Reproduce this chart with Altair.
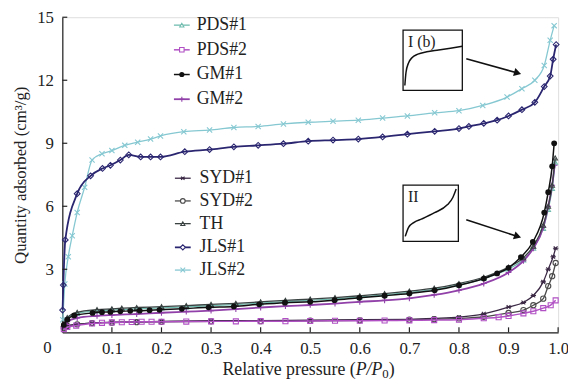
import altair as alt
import pandas as pd

# ---------------- data ----------------
JLS1_P = [0.0005, 0.002, 0.006, 0.03, 0.057, 0.081, 0.097, 0.117, 0.134, 0.158, 0.178, 0.198, 0.247, 0.297, 0.346, 0.395, 0.446, 0.496, 0.546, 0.597, 0.646, 0.696, 0.751, 0.80, 0.82, 0.85, 0.877, 0.90, 0.927, 0.953, 0.972, 0.984, 0.99, 0.996]
JLS1_Q = [1.06, 2.25, 4.4, 6.6, 7.45, 7.8, 7.95, 8.2, 8.45, 8.35, 8.35, 8.35, 8.6, 8.7, 8.83, 8.9, 8.98, 9.1, 9.15, 9.2, 9.3, 9.43, 9.57, 9.7, 9.8, 9.95, 10.1, 10.3, 10.6, 10.95, 11.7, 12.2, 13.0, 13.7]

JLS2_P = [0.001, 0.005, 0.012, 0.02, 0.03, 0.045, 0.06, 0.08, 0.1, 0.126, 0.152, 0.178, 0.198, 0.245, 0.297, 0.346, 0.395, 0.446, 0.496, 0.546, 0.597, 0.646, 0.696, 0.751, 0.80, 0.848, 0.897, 0.927, 0.953, 0.972, 0.984, 0.992]
JLS2_Q = [0.6, 2.3, 3.6, 4.6, 5.7, 6.9, 8.2, 8.5, 8.65, 8.9, 9.05, 9.2, 9.35, 9.55, 9.63, 9.75, 9.8, 9.92, 10.0, 10.05, 10.1, 10.2, 10.3, 10.45, 10.55, 10.8, 11.2, 11.6, 12.0, 12.7, 13.9, 14.6]

GM1_P = [0.003, 0.01, 0.024, 0.061, 0.08, 0.097, 0.117, 0.137, 0.156, 0.176, 0.196, 0.241, 0.295, 0.346, 0.397, 0.449, 0.5, 0.549, 0.599, 0.65, 0.7, 0.751, 0.8, 0.85, 0.877, 0.9, 0.925, 0.949, 0.972, 0.98, 0.988, 0.992]
GM1_Q = [0.35, 0.6, 0.8, 0.92, 0.96, 0.97, 1.0, 1.02, 1.03, 1.05, 1.07, 1.12, 1.19, 1.23, 1.33, 1.41, 1.45, 1.53, 1.64, 1.74, 1.85, 2.0, 2.24, 2.56, 2.8, 3.07, 3.58, 4.3, 5.7, 6.67, 7.9, 9.0]

TH_P = [0.003, 0.01, 0.03, 0.07, 0.1, 0.12, 0.15, 0.2, 0.25, 0.3, 0.35, 0.4, 0.45, 0.5, 0.55, 0.6, 0.65, 0.7, 0.75, 0.8, 0.85, 0.9, 0.93, 0.95, 0.97, 0.98, 0.988, 0.994]
TH_Q = [0.4, 0.7, 0.95, 1.08, 1.12, 1.15, 1.18, 1.22, 1.27, 1.33, 1.38, 1.45, 1.52, 1.58, 1.65, 1.74, 1.84, 1.96, 2.1, 2.32, 2.62, 3.1, 3.55, 4.1, 5.1, 6.0, 7.0, 8.3]

PDS1_P = [0.003, 0.01, 0.03, 0.07, 0.1, 0.15, 0.2, 0.25, 0.3, 0.35, 0.4, 0.45, 0.5, 0.55, 0.6, 0.65, 0.7, 0.75, 0.8, 0.85, 0.9, 0.93, 0.95, 0.97, 0.98, 0.988, 0.994]
PDS1_Q = [0.38, 0.66, 0.9, 1.02, 1.06, 1.12, 1.16, 1.21, 1.27, 1.32, 1.39, 1.46, 1.52, 1.59, 1.68, 1.78, 1.9, 2.04, 2.26, 2.56, 3.02, 3.45, 4.0, 4.95, 5.85, 6.85, 8.1]

GM2_P = [0.003, 0.01, 0.03, 0.07, 0.1, 0.15, 0.2, 0.25, 0.3, 0.35, 0.4, 0.45, 0.5, 0.55, 0.6, 0.65, 0.7, 0.75, 0.8, 0.85, 0.9, 0.93, 0.95, 0.97, 0.98, 0.988, 0.993]
GM2_Q = [0.3, 0.5, 0.68, 0.78, 0.82, 0.87, 0.93, 0.98, 1.03, 1.1, 1.18, 1.25, 1.3, 1.37, 1.45, 1.52, 1.62, 1.78, 2.0, 2.32, 2.85, 3.4, 4.0, 5.0, 6.0, 7.0, 7.95]

PDS2_P = [0.003, 0.01, 0.028, 0.06, 0.08, 0.1, 0.12, 0.14, 0.16, 0.18, 0.2, 0.25, 0.3, 0.35, 0.4, 0.45, 0.5, 0.55, 0.6, 0.65, 0.7, 0.75, 0.8, 0.85, 0.88, 0.9, 0.93, 0.95, 0.97, 0.985, 0.995]
PDS2_Q = [0.15, 0.25, 0.32, 0.42, 0.45, 0.47, 0.48, 0.49, 0.5, 0.5, 0.5, 0.51, 0.52, 0.52, 0.53, 0.53, 0.54, 0.55, 0.55, 0.56, 0.57, 0.58, 0.6, 0.67, 0.72, 0.78, 0.9, 1.0, 1.15, 1.29, 1.52]

SYD1_P = [0.003, 0.01, 0.03, 0.06, 0.1, 0.15, 0.2, 0.3, 0.4, 0.5, 0.6, 0.7, 0.75, 0.8, 0.85, 0.9, 0.93, 0.95, 0.97, 0.98, 0.99, 0.995]
SYD1_Q = [0.2, 0.3, 0.38, 0.45, 0.48, 0.5, 0.52, 0.55, 0.56, 0.58, 0.6, 0.62, 0.66, 0.72, 0.88, 1.2, 1.42, 1.75, 2.4, 3.0, 3.6, 4.0]

SYD2_P = [0.003, 0.01, 0.03, 0.06, 0.1, 0.15, 0.2, 0.3, 0.4, 0.5, 0.6, 0.7, 0.75, 0.8, 0.85, 0.9, 0.93, 0.95, 0.97, 0.98, 0.988, 0.995]
SYD2_Q = [0.2, 0.3, 0.38, 0.44, 0.46, 0.48, 0.5, 0.52, 0.53, 0.55, 0.57, 0.6, 0.62, 0.66, 0.74, 0.92, 1.06, 1.29, 1.6, 2.2, 2.67, 3.3]

LEGEND_1 = ["PDS#1", "PDS#2", "GM#1", "GM#2"]
LEGEND_2 = ["SYD#1", "SYD#2", "TH", "JLS#1", "JLS#2"]

X_TICKS = [0.1, 0.2, 0.3, 0.4, 0.5, 0.6, 0.7, 0.8, 0.9, 1.0]
Y_TICKS = [3, 6, 9, 12, 15]

# inset schematic curves (local 0..1 coordinates inside each box)
INSET1_U = [0.03, 0.05, 0.09, 0.15, 0.25, 0.4, 0.6, 0.8, 1.0]
INSET1_V = [0.08, 0.3, 0.45, 0.54, 0.6, 0.64, 0.67, 0.7, 0.73]
INSET2_U = [0.04, 0.1, 0.2, 0.34, 0.57, 0.8, 0.9, 0.96]
INSET2_V = [0.09, 0.25, 0.34, 0.4, 0.51, 0.65, 0.78, 0.93]

# ---------------- layout / style ----------------
FONT = "Liberation Serif"
TXT = "#222222"
X0, PW = 63, 502          # page pixel of x=0, plot width
TOP, BOT = 15, 334        # page pixel of y=15 and y=0
PH = BOT - TOP


def px2x(px):
    return (px - X0) / PW


def py2y(py):
    return (BOT - py) / PH * 15


XPATH = "M-1,-1L1,1M-1,1L1,-1"
PLUS = "M-1,0L1,0M0,-1L0,1"
STAR = "M-1,0L1,0M-0.7,-0.7L0.7,0.7M-0.7,0.7L0.7,-0.7"

STYLE = {
    "JLS#2": dict(color="#86c8d2", shape=XPATH, filled=False, size=28, sw=1.3),
    "PDS#1": dict(color="#6fbcae", shape="triangle-up", filled=False, size=22, sw=1.3),
    "JLS#1": dict(color="#2b2670", shape="diamond", filled=False, size=34, sw=1.8),
    "SYD#2": dict(color="#4a4a4a", shape="circle", filled=False, size=28, sw=1.3),
    "SYD#1": dict(color="#3a2845", shape=STAR, filled=False, size=30, sw=1.3),
    "PDS#2": dict(color="#b050c4", shape="square", filled=False, size=26, sw=1.5),
    "GM#2": dict(color="#9040a8", shape=PLUS, filled=False, size=34, sw=1.8),
    "TH": dict(color="#3a4242", shape="triangle-up", filled=False, size=22, sw=1.3),
    "GM#1": dict(color="#111111", shape="circle", filled=True, size=34, sw=1.5),
}
DATA = {
    "JLS#2": (JLS2_P, JLS2_Q), "PDS#1": (PDS1_P, PDS1_Q), "JLS#1": (JLS1_P, JLS1_Q),
    "SYD#2": (SYD2_P, SYD2_Q), "SYD#1": (SYD1_P, SYD1_Q), "PDS#2": (PDS2_P, PDS2_Q),
    "GM#2": (GM2_P, GM2_Q), "TH": (TH_P, TH_Q), "GM#1": (GM1_P, GM1_Q),
}

xs = alt.Scale(domain=[0, 1], nice=False, zero=False)
ys = alt.Scale(domain=[0, 15], nice=False)
x_axis = alt.Axis(values=[0] + X_TICKS, format=".1f", ticks=False, grid=False,
                  labelExpr="datum.value == 0 ? '' : datum.label",
                  labelFont=FONT, labelFontSize=17, labelColor=TXT, labelPadding=8,
                  domainColor="#222", domainWidth=1.2, labelFlush=False)
y_axis = alt.Axis(values=[0] + Y_TICKS, ticks=False, grid=False,
                  labelExpr="datum.value == 0 ? '' : datum.label",
                  labelFont=FONT, labelFontSize=17, labelColor=TXT, labelPadding=9,
                  domainColor="#222", domainWidth=1.2,
                  title="Quantity adsorbed (cm³/g)", titleFont=FONT, titleFontSize=17,
                  titleFontWeight="normal", titleColor=TXT, titlePadding=7, labelFlush=False)
X = alt.X("p:Q", scale=xs, axis=x_axis, title=None)
Y = alt.Y("q:Q", scale=ys, axis=y_axis)

layers = []
for name, (P, Q) in DATA.items():
    st = STYLE[name]
    df = pd.DataFrame({"p": P, "q": Q})
    base = alt.Chart(df).encode(x=X, y=Y)
    layers.append(base.mark_line(color=st["color"], strokeWidth=st["sw"], interpolate="monotone"))
    layers.append(base.mark_point(shape=st["shape"], filled=st["filled"], size=st["size"],
                                  color=st["color"], strokeWidth=1.1, opacity=1,
                                  fill=st["color"] if st["filled"] else "transparent"))

# inward ticks
tx = pd.DataFrame({"p": X_TICKS})
layers.append(alt.Chart(tx).mark_rule(color="#222", strokeWidth=1.2).encode(
    x=X, y=alt.value(PH), y2=alt.value(PH - 5)))
ty = pd.DataFrame({"q": Y_TICKS})
layers.append(alt.Chart(ty).mark_rule(color="#222", strokeWidth=1.2).encode(
    y=Y, x=alt.value(0), x2=alt.value(5)))

# corner 0 label
layers.append(alt.Chart(pd.DataFrame({"t": ["0"]})).mark_text(
    font=FONT, fontSize=17, color=TXT, align="center", baseline="middle").encode(
    text="t:N", x=alt.value(48 - X0), y=alt.value(350 - TOP)))

# x title pieces
ty0 = 372 - TOP
cx = 312 - X0
start = cx - 87
pieces = [
    ("Relative pressure (", start + 135, "right", "normal", 18, 0),
    ("P/P", start + 135, "left", "italic", 18, 0),
    ("0", start + 162, "left", "normal", 13, 4),
    (")", start + 168.5, "left", "normal", 18, 0),
]
for t, x, al, fs, size, dy in pieces:
    layers.append(alt.Chart(pd.DataFrame({"t": [t]})).mark_text(
        font=FONT, fontSize=size, fontStyle=fs, color=TXT, align=al, baseline="middle", dy=dy).encode(
        text="t:N", x=alt.value(x), y=alt.value(ty0)))

# legends
def legend(names, rows, lx1, lx2, mx, tx_):
    for name, ry in zip(names, rows):
        st = STYLE[name]
        yv = py2y(ry)
        d = pd.DataFrame({"p": [px2x(lx1)], "p2": [px2x(lx2)], "q": [yv], "pm": [px2x(mx)],
                          "pt": [px2x(tx_)], "t": [name]})
        b = alt.Chart(d)
        layers.append(b.mark_rule(color=st["color"], strokeWidth=st["sw"]).encode(
            x=X, x2="p2:Q", y=Y))
        layers.append(b.mark_point(shape=st["shape"], filled=st["filled"], size=st["size"] * 0.8,
                                   color=st["color"], strokeWidth=1.1, opacity=1,
                                   fill=st["color"] if st["filled"] else "white").encode(
            x=alt.X("pm:Q", scale=xs, axis=x_axis, title=None), y=Y))
        layers.append(b.mark_text(font=FONT, fontSize=18, color=TXT, align="left",
                                  baseline="middle").encode(
            x=alt.X("pt:Q", scale=xs, axis=x_axis, title=None), y=Y, text="t:N"))

legend(LEGEND_1, [23, 48, 73, 98], 176, 192, 184, 199)
legend(LEGEND_2, [178, 201, 224, 248, 271], 177, 193, 185, 202)

# insets
def inset(bx1, by1, bx2, by2, U, V, label, arrow):
    box = pd.DataFrame({"p": [px2x(bx1)], "p2": [px2x(bx2)], "q": [py2y(by2)], "q2": [py2y(by1)]})
    layers.append(alt.Chart(box).mark_rect(fill="white", stroke="#111", strokeWidth=1.3).encode(
        x=X, x2="p2:Q", y=Y, y2="q2:Q"))
    cur = pd.DataFrame({"p": [px2x(bx1 + u * (bx2 - bx1)) for u in U],
                        "q": [py2y(by2 - v * (by2 - by1)) for v in V]})
    layers.append(alt.Chart(cur).mark_line(color="#111", strokeWidth=1.5, interpolate="monotone").encode(
        x=X, y=Y))
    lab = pd.DataFrame({"p": [px2x(bx1 + 5)], "q": [py2y(by1 + 12)], "t": [label]})
    layers.append(alt.Chart(lab).mark_text(font=FONT, fontSize=16, color=TXT, align="left",
                                           baseline="middle").encode(x=X, y=Y, text="t:N"))
    (ax1, ay1, ax2, ay2, ang) = arrow
    ar = pd.DataFrame({"p": [px2x(ax1)], "p2": [px2x(ax2)], "q": [py2y(ay1)], "q2": [py2y(ay2)]})
    layers.append(alt.Chart(ar).mark_rule(color="#111", strokeWidth=1.6).encode(
        x=X, x2="p2:Q", y=Y, y2="q2:Q"))
    hd = pd.DataFrame({"p": [px2x(ax2)], "q": [py2y(ay2)]})
    layers.append(alt.Chart(hd).mark_point(shape="triangle-up", filled=True, size=70, color="#111",
                                           angle=ang, opacity=1).encode(x=X, y=Y))

inset(408, 28, 468, 89, INSET1_U, INSET1_V, "I (b)", (472, 57, 524, 71.5, 106))
inset(408, 185, 464, 242, INSET2_U, INSET2_V, "II", (472, 220, 524, 237, 108))

chart = alt.layer(*layers).properties(
    width=PW, height=PH,
    autosize=alt.AutoSizeParams(type="none"),
    padding={"left": X0 - 8, "top": TOP - 8, "right": 10, "bottom": 50},
).configure_view(stroke=None).configure(background="white")

chart.save("out.html", embed_options={"renderer": "svg", "actions": False})
